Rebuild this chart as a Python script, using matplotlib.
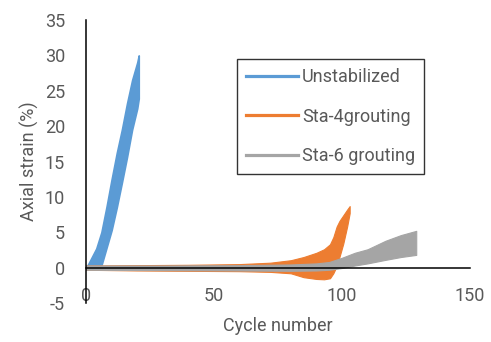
import numpy as np
import matplotlib.pyplot as plt
from matplotlib.lines import Line2D

plt.rcParams['font.family'] = ['Roboto', 'DejaVu Sans']
plt.rcParams['axes.unicode_minus'] = False

# Unstabilized: band envelope (cycle, upper / lower axial strain %)
unstab_cycle = [0, 1, 2, 4, 6, 8, 10, 12, 14, 16, 18, 20, 20.6]
unstab_upper = [0, 0.6, 1.3, 2.7, 5.0, 8.6, 12.5, 16.2, 19.5, 23.2, 26.5, 29.0, 30.0]
unstab_lower = [0, 0, 0, 0, 0.3, 2.8, 5.3, 8.5, 12.0, 15.6, 19.5, 22.5, 23.9]

# Sta-4grouting
sta4_cycle = [0, 20, 40, 60, 72, 80, 85, 90, 93, 95.3, 96.6, 97.9, 99, 100.5, 102, 103]
sta4_upper = [0.3, 0.35, 0.4, 0.5, 0.7, 1.05, 1.5, 2.1, 2.6, 3.3, 4.3, 5.8, 6.6, 7.4, 8.2, 8.7]
sta4_lower = [-0.3, -0.4, -0.45, -0.5, -0.6, -0.8, -1.35, -1.6, -1.65, -1.5, -0.8, 0.2, 1.5, 3.4, 5.8, 7.7]

# Sta-6 grouting
sta6_cycle = [0, 30, 60, 80, 90, 95, 100, 105, 110, 117, 123, 129]
sta6_upper = [0.3, 0.3, 0.35, 0.45, 0.6, 0.8, 1.4, 2.1, 2.6, 3.8, 4.6, 5.2]
sta6_lower = [-0.3, -0.35, -0.4, -0.45, -0.4, -0.3, -0.05, 0.3, 0.6, 1.1, 1.5, 1.8]

labels = ['Unstabilized', 'Sta-4grouting', 'Sta-6 grouting']
colors = ['#5B9BD5', '#ED7D31', '#A5A5A5']
text_color = '#595959'

fig = plt.figure(figsize=(4.91, 3.42), dpi=100)
ax = fig.add_axes([0.1752, 0.114, 0.782, 0.8275])

ax.fill_between(unstab_cycle, unstab_lower, unstab_upper, color=colors[0], lw=1.2, ec=colors[0])
ax.fill_between(sta4_cycle, sta4_lower, sta4_upper, color=colors[1], lw=0.8, ec=colors[1])
ax.fill_between(sta6_cycle, sta6_lower, sta6_upper, color=colors[2], lw=0.8, ec=colors[2])

ax.set_xlim(0, 150)
ax.set_ylim(-5, 35)
ax.set_xticks([0, 50, 100, 150])
ax.set_yticks(np.arange(-5, 36, 5))

ax.spines['top'].set_visible(False)
ax.spines['right'].set_visible(False)
ax.spines['bottom'].set_position(('data', 0))
ax.spines['left'].set_linewidth(1.1)
ax.spines['bottom'].set_linewidth(1.1)
ax.tick_params(axis='both', length=0, labelsize=13, labelcolor=text_color)
ax.tick_params(axis='x', pad=14)
ax.tick_params(axis='y', pad=15)

ax.set_xlabel('Cycle number', fontsize=13, color=text_color)
ax.set_ylabel('Axial strain (%)', fontsize=13, color=text_color, labelpad=4)
ax.xaxis.set_label_coords(0.5, -0.05)

handles = [Line2D([], [], color=c, lw=2.3) for c in colors]
leg = ax.legend(handles, labels, loc='upper left', bbox_to_anchor=(0.393, 0.862),
                borderaxespad=0, fontsize=13, frameon=True, fancybox=False,
                handlelength=2.9, handletextpad=0.2, labelspacing=1.2,
                borderpad=0.5)
leg.get_frame().set_edgecolor('black')
leg.get_frame().set_linewidth(1.0)
for t in leg.get_texts():
    t.set_color(text_color)

fig.savefig('out.png', dpi=100)
